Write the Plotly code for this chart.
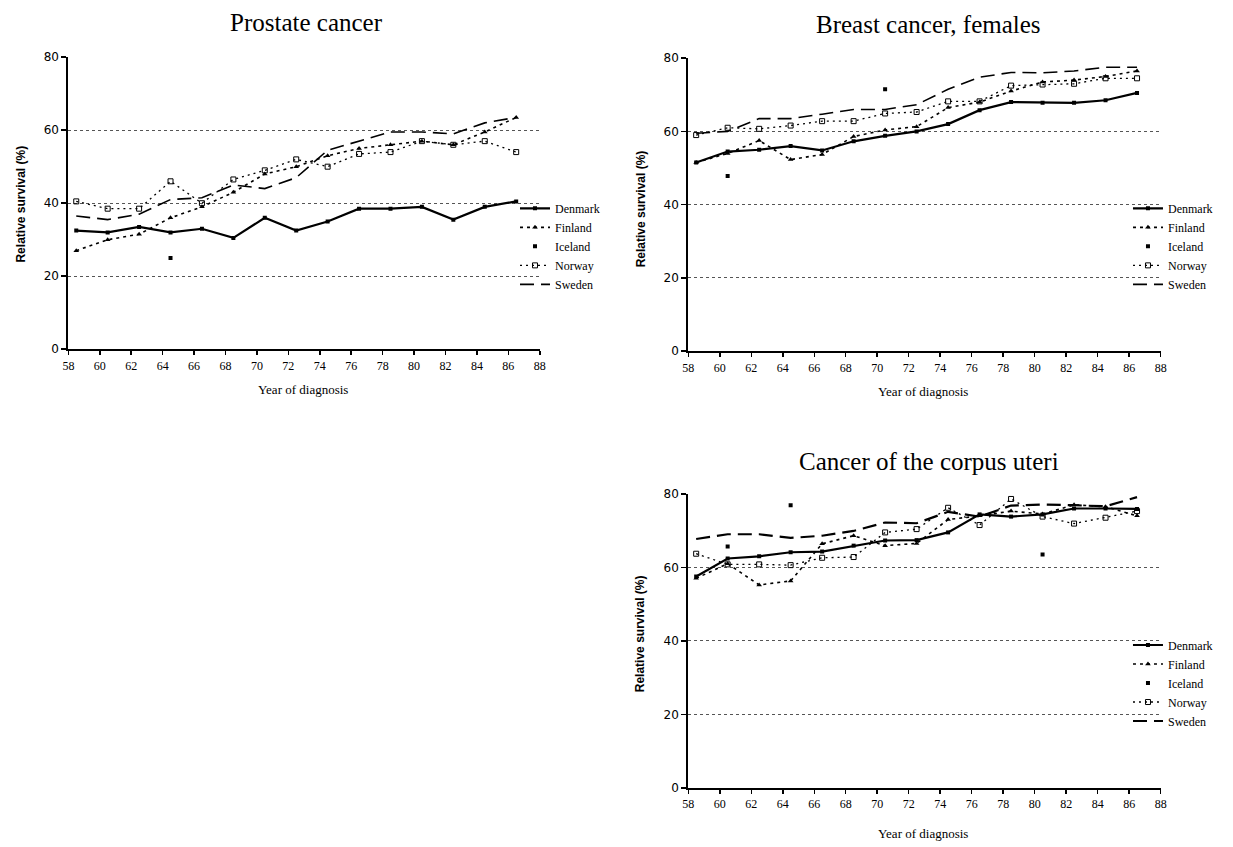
import plotly.graph_objects as go

W, H = 1233, 847

YEARS = [58.5, 60.5, 62.5, 64.5, 66.5, 68.5, 70.5, 72.5, 74.5, 76.5, 78.5, 80.5, 82.5, 84.5, 86.5]
X_TICKS = [58, 60, 62, 64, 66, 68, 70, 72, 74, 76, 78, 80, 82, 84, 86, 88]
Y_TICKS = [0, 20, 40, 60, 80]
COUNTRIES = ["Denmark", "Finland", "Iceland", "Norway", "Sweden"]
TITLES = ["Prostate cancer", "Breast cancer, females", "Cancer of the corpus uteri"]

# Prostate cancer
PROSTATE_DENMARK = [32.5, 32, 33.5, 32, 33, 30.5, 36, 32.5, 35, 38.5, 38.5, 39, 35.5, 39, 40.5]
PROSTATE_FINLAND = [27, 30, 31.5, 36, 39, 43, 48, 50, 53, 55, 56, 57, 56, 59.5, 63.5]
PROSTATE_ICELAND = [None, None, None, 25, None, None, None, None, None, None, None, None, None, None, None]
PROSTATE_NORWAY = [40.5, 38.5, 38.5, 46, 40, 46.5, 49, 52, 50, 53.5, 54, 57, 56, 57, 54]
PROSTATE_SWEDEN = [36.5, 35.5, 37, 41, 41.5, 45, 44, 47, 54.5, 57, 59.5, 59.5, 59, 62, 63.5]

# Breast cancer, females
BREAST_DENMARK = [51.5, 54.5, 55, 56, 54.8, 57.3, 58.8, 60, 62, 65.8, 68, 67.8, 67.8, 68.5, 70.5]
BREAST_FINLAND = [51.5, 54, 57.5, 52.3, 53.7, 58.6, 60.4, 61.3, 66.5, 68, 71, 73.5, 74, 75, 76.5]
BREAST_ICELAND = [None, 47.8, None, None, None, None, 71.5, None, None, None, None, None, None, None, None]
BREAST_NORWAY = [59, 61, 60.7, 61.6, 62.8, 62.8, 64.9, 65.3, 68.2, 68.2, 72.5, 72.8, 73, 74.5, 74.5]
BREAST_SWEDEN = [59.5, 60, 63.5, 63.5, 64.7, 66, 66, 67.3, 71.5, 74.8, 76.1, 76, 76.5, 77.5, 77.5]

# Cancer of the corpus uteri
CORPUS_DENMARK = [57.5, 62.4, 63, 64.1, 64.3, 65.9, 67.3, 67.4, 69.5, 74.4, 73.8, 74.4, 76, 76, 75.9]
CORPUS_FINLAND = [57, 61, 55.2, 56.3, 66.4, 68.6, 65.9, 66.5, 73, 74, 75.3, 74.5, 77, 76.5, 74]
CORPUS_ICELAND = [None, 65.7, None, 76.9, None, None, None, None, None, None, None, 63.5, None, None, None]
CORPUS_NORWAY = [63.7, 60.8, 60.8, 60.6, 62.6, 62.8, 69.5, 70.4, 76.2, 71.5, 78.6, 73.8, 71.9, 73.5, 75.3]
CORPUS_SWEDEN = [67.7, 69, 69, 68, 68.6, 69.9, 72.2, 72, 75.1, 73.8, 76.8, 77.1, 76.9, 76.6, 79.1]

PANELS = [
    [PROSTATE_DENMARK, PROSTATE_FINLAND, PROSTATE_ICELAND, PROSTATE_NORWAY, PROSTATE_SWEDEN],
    [BREAST_DENMARK, BREAST_FINLAND, BREAST_ICELAND, BREAST_NORWAY, BREAST_SWEDEN],
    [CORPUS_DENMARK, CORPUS_FINLAND, CORPUS_ICELAND, CORPUS_NORWAY, CORPUS_SWEDEN],
]

# pixel layout of each panel: (x_left, x_right, y_top(80), y_bottom(0))
PANEL_PX = [(63, 539, 51, 348), (689, 1166, 52, 350), (689, 1166, 495, 794)]
TITLE_PX = [(303, 16), (932, 18), (932, 462)]
YTITLE_PX = [(15, 200), (641, 205), (641, 637)]
XTITLE_PX = [(300, 389), (926, 391), (926, 840)]
LEGEND_PX = [(514, 190), (1133, 190), (1133, 634)]

STYLES = {
    "Denmark": dict(mode="lines+markers", line=dict(color="black", width=2.2, dash="solid"),
                    marker=dict(symbol="square", size=4, color="black")),
    "Finland": dict(mode="lines+markers", line=dict(color="black", width=1.6, dash="3px,4px"),
                    marker=dict(symbol="triangle-up", size=5, color="black")),
    "Iceland": dict(mode="markers", marker=dict(symbol="square", size=4, color="black")),
    "Norway": dict(mode="lines+markers", line=dict(color="black", width=1.3, dash="2px,4px"),
                   marker=dict(symbol="square-open", size=5, color="black", line=dict(width=1))),
    "Sweden": dict(mode="lines", line=dict(color="black", width=1.6, dash="14px,7px")),
}


def px2x(p):
    return p / W


def px2y(p):
    return 1 - p / H


fig = go.Figure()
legend_names = ["legend", "legend2", "legend3"]

for i, series in enumerate(PANELS):
    suffix = "" if i == 0 else str(i + 1)
    for name, vals in zip(COUNTRIES, series):
        st = dict(STYLES[name])
        if i == 2 and name == "Sweden":
            st = dict(mode="lines", line=dict(color="black", width=2.2, dash="14px,7px"))
        fig.add_trace(go.Scatter(
            x=YEARS, y=vals, name=name,
            xaxis="x" + suffix, yaxis="y" + suffix,
            legend=legend_names[i], showlegend=True,
            connectgaps=False, **st))

layout = dict(
    width=W, height=H, autosize=False,
    margin=dict(l=0, r=0, t=0, b=0),
    paper_bgcolor="white", plot_bgcolor="white",
    font=dict(family="Liberation Serif", color="black"),
    annotations=[],
)

for i in range(3):
    xl, xr, yt, yb = PANEL_PX[i]
    suffix = "" if i == 0 else str(i + 1)
    layout["xaxis" + suffix] = dict(
        domain=[px2x(xl), px2x(xr)], range=[58, 88],
        anchor="y" + suffix, tickmode="array", tickvals=X_TICKS,
        ticktext=[str(t) for t in X_TICKS],
        showgrid=False, zeroline=False,
        showline=True, linecolor="black", linewidth=2,
        ticks="outside", ticklen=4, tickwidth=1.5, tickcolor="black",
        tickfont=dict(family="Liberation Serif", size=12, color="black"),
        fixedrange=True,
    )
    layout["yaxis" + suffix] = dict(
        domain=[px2y(yb), px2y(yt)], range=[0, 80],
        anchor="x" + suffix, tickmode="array", tickvals=Y_TICKS,
        showgrid=True, gridcolor="#555555", griddash="dot", gridwidth=1,
        zeroline=False,
        showline=True, linecolor="black", linewidth=2,
        ticks="outside", ticklen=5, tickwidth=1.5, tickcolor="black",
        tickfont=dict(family="DejaVu Sans", size=12, color="black"),
        fixedrange=True,
    )
    lx, ly = LEGEND_PX[i]
    layout[legend_names[i]] = dict(
        x=px2x(lx), y=px2y(ly), xanchor="left", yanchor="top",
        bgcolor="rgba(0,0,0,0)", borderwidth=0,
        font=dict(family="Liberation Serif", size=12, color="black"),
        itemwidth=30, tracegroupgap=0,
    )
    tx, ty = TITLE_PX[i]
    layout["annotations"].append(dict(
        text=TITLES[i], x=px2x(tx), y=px2y(ty), xref="paper", yref="paper",
        xanchor="center", yanchor="middle", showarrow=False,
        font=dict(family="Liberation Serif", size=25, color="black")))
    yx, yy = YTITLE_PX[i]
    layout["annotations"].append(dict(
        text="<b>Relative survival (%)</b>", x=px2x(yx), y=px2y(yy), xref="paper", yref="paper",
        xanchor="center", yanchor="middle", showarrow=False, textangle=-90,
        font=dict(family="Liberation Sans", size=12, color="black")))
    xx, xy = XTITLE_PX[i]
    layout["annotations"].append(dict(
        text="Year of diagnosis", x=px2x(xx), y=px2y(xy), xref="paper", yref="paper",
        xanchor="center", yanchor="middle", showarrow=False,
        font=dict(family="Liberation Serif", size=13, color="black")))

fig.update_layout(**layout)
fig.write_html(
    "out.html",
    config={"displayModeBar": False, "staticPlot": True},
    post_script="document.body.style.margin='0';document.body.style.overflow='hidden';",
)
